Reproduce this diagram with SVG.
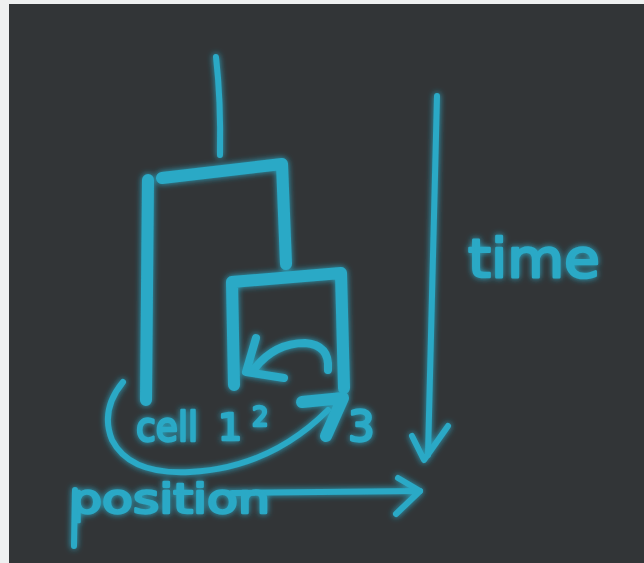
<svg xmlns="http://www.w3.org/2000/svg" width="644" height="563" viewBox="0 0 644 563">
  <defs>
    <filter id="glow" x="-10%" y="-10%" width="120%" height="120%">
      <feGaussianBlur in="SourceGraphic" stdDeviation="3" result="b"/>
      <feMerge><feMergeNode in="b"/><feMergeNode in="SourceGraphic"/></feMerge>
    </filter>
  </defs>
  <style>
    .ln { fill: none; stroke: #2aa9c6; stroke-linecap: round; stroke-linejoin: round; }
    .thick { stroke-width: 12; }
    .mid { stroke-width: 8; }
    .thin { stroke-width: 6; }
    .hand { fill: #2aa9c6; stroke: #2aa9c6; stroke-width: 2.5; stroke-linejoin: round; font-family: "DejaVu Sans", "Noto Sans", sans-serif; }
  </style>
  <rect x="0" y="0" width="644" height="563" fill="#eef0f0"/>
  <rect x="9" y="4" width="635" height="559" fill="#323537"/>
  <g filter="url(#glow)">
    <g id="tree">
      <path class="ln thin" d="M216,57 Q221,100 220,155"/>
      <path class="ln thick" d="M148,180 L146,400"/>
      <path class="ln thick" d="M162,178 L282,164 L286,264"/>
      <path class="ln thick" d="M234,385 L232,282 L341,273 L344,388"/>
    </g>
    <g id="swap-arrow">
      <path class="ln mid" d="M328,370 Q330,345 305,343 Q275,343 255,368"/>
      <path class="ln mid" d="M256,338 L246,372 L284,378"/>
    </g>
    <g id="move-arrow">
      <path class="ln thin" d="M123,382 Q100,410 112,440 Q130,475 190,472 Q270,468 328,410"/>
      <path class="ln thick" d="M302,402 L343,398 L326,436"/>
    </g>
    <g id="time-axis">
      <path class="ln thin" d="M437,96 L428,455"/>
      <path class="ln thin" d="M412,436 L424,460 L448,426"/>
    </g>
    <g id="position-axis">
      <path class="ln thin" d="M75,490 L74,546"/>
      <path class="ln thin" d="M232,493 L420,491"/>
      <path class="ln thin" d="M398,478 L420,491 L396,514"/>
    </g>
    <g id="labels">
      <text class="hand" x="468" y="277" font-size="54" textLength="132" lengthAdjust="spacingAndGlyphs">time</text>
      <text class="hand" x="136" y="441" font-size="40" textLength="62" lengthAdjust="spacingAndGlyphs">cell</text>
      <text class="hand" x="218" y="440" font-size="38">1</text>
      <text class="hand" x="252" y="426" font-size="26">2</text>
      <text class="hand" x="348" y="441" font-size="42">3</text>
      <text class="hand" x="70" y="513" font-size="40" textLength="200" lengthAdjust="spacingAndGlyphs">position</text>
    </g>
  </g>
</svg>
